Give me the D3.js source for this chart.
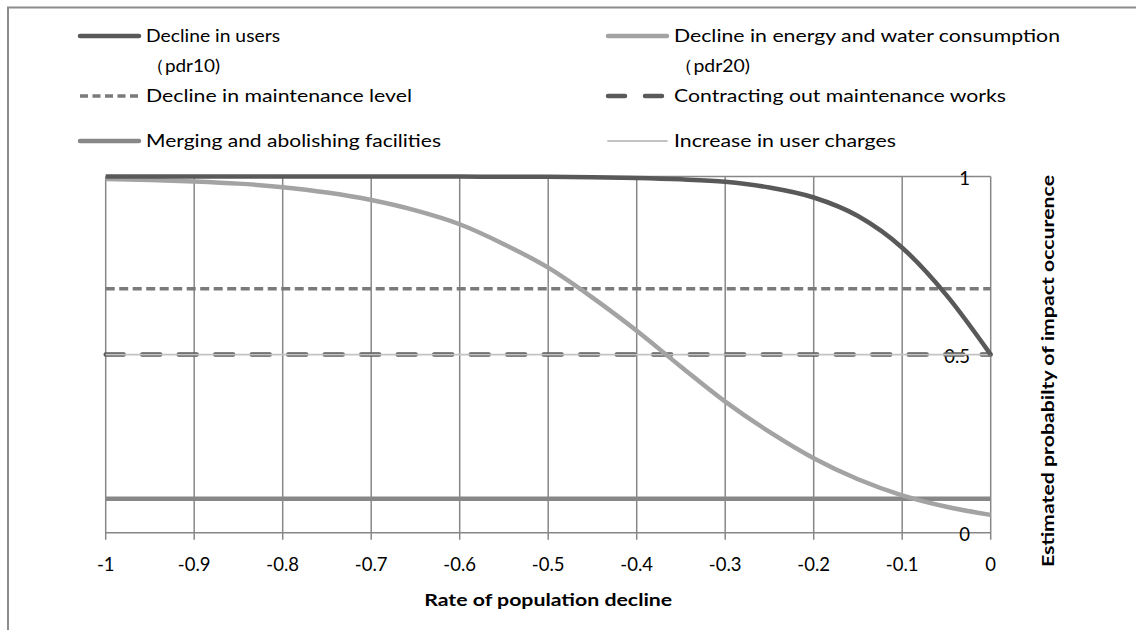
<!DOCTYPE html>
<html><head><meta charset="utf-8">
<script src="https://cdn.jsdelivr.net/npm/d3@7"></script>
<style>
body{margin:0;background:#fff}
text{font-family:Lato,"Liberation Sans",sans-serif;fill:#000}
</style>
</head><body>
<svg id="c" width="1136" height="630"></svg>
<script>
// ---- data ----
const xValues = [-1,-0.95,-0.9,-0.85,-0.8,-0.75,-0.7,-0.65,-0.6,-0.55,-0.5,-0.45,-0.4,-0.35,-0.3,-0.25,-0.2,-0.15,-0.1,-0.05,0];
const declineUsers = [1,1,1,1,1,1,1,1,1,0.999,0.999,0.998,0.996,0.992,0.985,0.969,0.941,0.889,0.80,0.667,0.5];
const declineEnergy = [0.993,0.99,0.986,0.98,0.97,0.955,0.934,0.905,0.866,0.81,0.744,0.66,0.567,0.466,0.368,0.283,0.209,0.15,0.105,0.073,0.05];
const lineEnds = [-1, 0];
const maintenanceLevel = [0.685, 0.685];
const contractingOut = [0.5, 0.5];
const mergingFacilities = [0.095, 0.095];
const userCharges = [0.5, 0.5];
const xTicks = [-1,-0.9,-0.8,-0.7,-0.6,-0.5,-0.4,-0.3,-0.2,-0.1,0];
const yTicks = [0, 0.5, 1];
const xTitle = "Rate of population decline";
const yTitle = "Estimated probabilty of impact occurence";

const series = [
  {name:"Merging and abolishing facilities", x:lineEnds, y:mergingFacilities, color:"#878787", w:4.5, dash:null, cap:"butt"},
  {name:"Decline in maintenance level", x:lineEnds, y:maintenanceLevel, color:"#7a7a7a", w:3.5, dash:"9,4.5", cap:"butt"},
  {name:"Contracting out maintenance works", x:lineEnds, y:contractingOut, color:"#595959", w:4.5, dash:"18,18.5", cap:"round"},
  {name:"Increase in user charges", x:lineEnds, y:userCharges, color:"#c3c3c3", w:1.8, dash:null, cap:"butt"},
  {name:"Decline in energy and water consumption", x:xValues, y:declineEnergy, color:"#a3a3a3", w:4.5, dash:null, cap:"butt"},
  {name:"Decline in users", x:xValues, y:declineUsers, color:"#595959", w:4.5, dash:null, cap:"butt"}
];

const svg = d3.select("#c");
const L = 105.7, R = 990.7, T = 176.5, B = 532.7;
const x = d3.scaleLinear().domain([-1,0]).range([L,R]);
const y = d3.scaleLinear().domain([0,1]).range([B,T]);

// outer frame (cropped)
svg.append("rect").attr("x",8).attr("y",7.5).attr("width",1200).attr("height",700)
  .attr("fill","none").attr("stroke","#8c8c8c").attr("stroke-width",2);

// vertical gridlines with tick marks below axis
svg.append("g").selectAll("line").data(xTicks).join("line")
  .attr("x1",d=>x(d)).attr("x2",d=>x(d)).attr("y1",T).attr("y2",B+7)
  .attr("stroke","#878787").attr("stroke-width",1.5);
svg.append("line").attr("x1",L).attr("x2",R).attr("y1",T).attr("y2",T).attr("stroke","#878787").attr("stroke-width",1.5);
svg.append("line").attr("x1",L).attr("x2",R).attr("y1",B).attr("y2",B).attr("stroke","#878787").attr("stroke-width",1.5);

// x tick labels (plain hyphen minus, as in the reference)
svg.append("g").selectAll("text").data(xTicks).join("text")
  .attr("x",d=>x(d)).attr("y",565).attr("dy","0.35em").attr("text-anchor","middle")
  .style("font-size","18.5px").text(d=>String(d));

// y tick labels (inside right)
svg.append("g").selectAll("text").data(yTicks).join("text")
  .attr("x",970).attr("y",d=>y(d)+2).attr("dy","0.35em").attr("text-anchor","end")
  .style("font-size","18.5px").text(d=>String(d));

// series
const lineGen = d3.line().x(d=>x(d[0])).y(d=>y(d[1])).curve(d3.curveMonotoneX);
series.forEach(s=>{
  const pts = s.x.map((v,i)=>[v,s.y[i]]);
  svg.append("path").attr("d",lineGen(pts)).attr("fill","none")
    .attr("stroke",s.color).attr("stroke-width",s.w)
    .attr("stroke-dasharray",s.dash).attr("stroke-linecap",s.cap);
});

// axis titles
svg.append("text").attr("x",x(-0.5)).attr("y",600).attr("dy","0.35em").attr("text-anchor","middle")
  .style("font-size","17px").style("font-weight","bold").attr("textLength",248).attr("lengthAdjust","spacingAndGlyphs").text(xTitle);
svg.append("text").attr("transform","translate(1048,371) rotate(-90)").attr("dy","0.35em").attr("text-anchor","middle")
  .style("font-size","17px").style("font-weight","bold").attr("textLength",392).attr("lengthAdjust","spacingAndGlyphs").text(yTitle);

// legend
const legend = [
  {s:5, lx:80, ty:36, tx:146, lines:["Decline in users","（pdr10)"], tl:[134,74]},
  {s:1, lx:80, ty:96, tx:146, lines:["Decline in maintenance level"], tl:[266]},
  {s:0, lx:80, ty:141, tx:146, lines:["Merging and abolishing facilities"], tl:[295]},
  {s:4, lx:608, ty:36, tx:674, lines:["Decline in energy and water consumption","（pdr20)"], tl:[386,76]},
  {s:2, lx:608, ty:96, tx:674, lines:["Contracting out maintenance works"], tl:[332]},
  {s:3, lx:608, ty:141, tx:674, lines:["Increase in user charges"], tl:[222]}
];
legend.forEach(l=>{
  const s = series[l.s];
  const ln = svg.append("line").attr("x1",l.lx).attr("x2",l.lx+59).attr("y1",l.ty).attr("y2",l.ty)
    .attr("stroke",s.color).attr("stroke-width",s.w).attr("stroke-linecap", s.dash ? (s.cap) : "round");
  if(s.dash){ ln.attr("stroke-dasharray", l.s===2 ? "17,20" : "8,4.5"); }
  l.lines.forEach((t,i)=>{
    svg.append("text").attr("x",l.tx).attr("y",l.ty+i*30).attr("dy","0.35em")
      .style("font-size","18px").attr("textLength",l.tl[i]).attr("lengthAdjust","spacingAndGlyphs").text(t);
  });
});
</script>
</body></html>
